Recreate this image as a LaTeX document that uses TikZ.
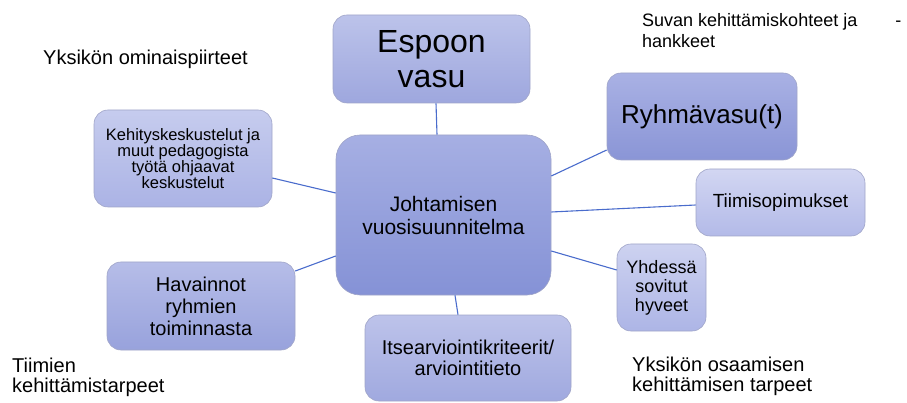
\documentclass[tikz,border=0pt]{standalone}
\usepackage{fontspec}
\setmainfont{Liberation Sans}
\usetikzlibrary{calc}
\definecolor{linkc}{RGB}{74,108,204}
\definecolor{edgec}{RGB}{160,165,200}
\tikzset{
  box/.style={draw=edgec, line width=0.6pt, rounded corners=14pt, inner sep=0pt, align=center, text=black},
  link/.style={draw=linkc, line width=1.1pt},
  lbl/.style={inner sep=0pt, align=left, anchor=base west, text=black}
}
\newcommand{\fs}[2]{\fontsize{#1}{#2}\selectfont}
\begin{document}
\begin{tikzpicture}[x=1pt,y=-1pt]
\useasboundingbox (0,0) rectangle (907,403);
% boxes
\node[box, font=\fs{32}{35}, top color={rgb,255:red,188;green,195;blue,234}, bottom color={rgb,255:red,158;green,167;blue,222},
  minimum width=197pt, minimum height=88pt] (espoo) at (431.5,59) {Espoon\\vasu};
\node[box, font=\fs{26}{28}, top color={rgb,255:red,169;green,177;blue,228}, bottom color={rgb,255:red,138;green,149;blue,214},
  minimum width=190pt, minimum height=87pt] (ryhma) at (702,116.5) {Ryhmävasu(t)};
\node[box, font=\fs{16.5}{16}, top color={rgb,255:red,198;green,204;blue,238}, bottom color={rgb,255:red,171;green,179;blue,229},
  minimum width=178pt, minimum height=97pt] (kehitys) at (183,158.5) {Kehityskeskustelut ja\\ muut pedagogista\\ työtä ohjaavat\\ keskustelut};
\node[box, font=\fs{21}{23}, rounded corners=24pt, top color={rgb,255:red,166;green,175;blue,227}, bottom color={rgb,255:red,133;green,146;blue,214},
  minimum width=215pt, minimum height=160pt] (johta) at (443.5,215) {Johtamisen\\vuosisuunnitelma};
\node[box, font=\fs{19}{21}, top color={rgb,255:red,210;green,214;blue,242}, bottom color={rgb,255:red,179;green,186;blue,232},
  minimum width=169pt, minimum height=67pt] (tiimi) at (780.5,202.5) {Tiimisopimukset};
\node[box, font=\fs{18}{19}, top color={rgb,255:red,205;green,210;blue,240}, bottom color={rgb,255:red,173;green,181;blue,230},
  minimum width=89pt, minimum height=87pt] (yhdessa) at (661.5,287.5) {Yhdessä\\sovitut\\hyveet};
\node[box, font=\fs{20}{22}, top color={rgb,255:red,182;green,189;blue,232}, bottom color={rgb,255:red,152;green,162;blue,220},
  minimum width=188pt, minimum height=88pt] (havainnot) at (201,306) {Havainnot\\ryhmien\\toiminnasta};
\node[box, font=\fs{20}{20.5}, top color={rgb,255:red,189;green,195;blue,234}, bottom color={rgb,255:red,160;green,169;blue,223},
  minimum width=206pt, minimum height=86pt] (itse) at (468,358) {Itsearviointikriteerit/\\arviointitieto};
% connectors
\draw[link] ($(espoo.south)+(4.5,0)$) -- ($(johta.north)+(-6.5,0)$);
\draw[link] ($(ryhma.west)+(0,33.5)$) -- ($(johta.east)+(0,-39)$);
\draw[link] ($(tiimi.west)+(0,2.5)$) -- ($(johta.east)+(0,-3)$);
\draw[link] ($(yhdessa.west)+(0,-17.5)$) -- ($(johta.east)+(0,36)$);
\draw[link] ($(itse.north)+(-10,0)$) -- ($(johta.south)+(11.5,0)$);
\draw[link] ($(havainnot.east)+(0,-35)$) -- ($(johta.west)+(0,41)$);
\draw[link] ($(kehitys.east)+(0,19.5)$) -- ($(johta.west)+(0,-22)$);
% outer labels (base anchor = baseline of last line)
\node[lbl, font=\fs{20}{20}] (l1) at (43,65) {Yksikön ominaispiirteet};
\node[lbl, font=\fs{18}{20.5}] (l2) at (642,47.5) {Suvan kehittämiskohteet ja\hspace{38pt}-\\hankkeet};
\node[lbl, font=\fs{20}{20}] (l3) at (12,392) {Tiimien\\kehittämistarpeet};
\node[lbl, font=\fs{20}{20}] (l4) at (632,391) {Yksikön osaamisen\\kehittämisen tarpeet};
\end{tikzpicture}
\end{document}
